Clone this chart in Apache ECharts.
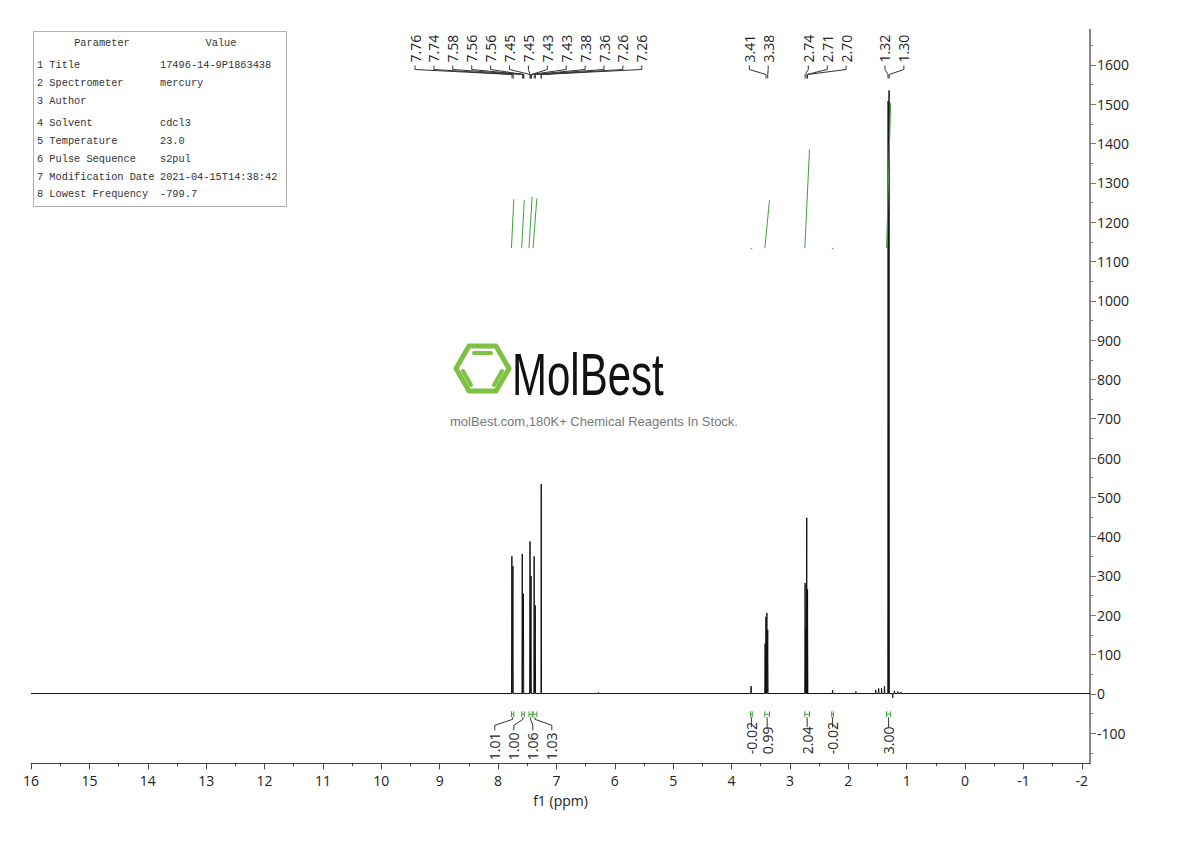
<!DOCTYPE html>
<html><head><meta charset="utf-8">
<script src="https://cdn.jsdelivr.net/npm/echarts@6/dist/echarts.min.js"></script>
<style>html,body{margin:0;padding:0;background:#fff}#c{width:1190px;height:841px}</style>
</head><body><div id="c"></div>
<script>
// ---------------- data ----------------
const xTickValues = [16,15,14,13,12,11,10,9,8,7,6,5,4,3,2,1,0,-1,-2];
const xMinorTickValues = [15.5,14.5,13.5,12.5,11.5,10.5,9.5,8.5,7.5,6.5,5.5,4.5,3.5,2.5,1.5,0.5,-0.5,-1.5];
const yTickValues = [-100,0,100,200,300,400,500,600,700,800,900,1000,1100,1200,1300,1400,1500,1600];
const yMinorTickValues = [-150,-50,50,150,250,350,450,550,650,750,850,950,1050,1150,1250,1350,1450,1550,1650];

// spectrum lines (ppm, intensity)
const specPpm    = [7.763,7.745,7.585,7.565,7.452,7.435,7.381,7.362,7.260,6.28,3.665,3.425,3.410,3.395,3.380,2.740,2.725,2.712,2.705,2.698,2.27,1.87,1.53,1.48,1.43,1.38,1.318,1.302,1.24,1.21,1.15,1.10];
const specHeight = [350,  325,  356,  255,  388,  300,  350,  225,  534,  4,   20,   128,  196,  206,  163,  282,  170,  448,  180,  266,  10,  6,   10,  14,  15,  20,  1508, 1535, -10, 8,   6,   5];
const baselineLevel = 1;

// integrals
const intFrom  = [7.770,7.595,7.470,7.400,3.675,3.430,2.745,2.285,1.345];
const intTo    = [7.730,7.550,7.415,7.335,3.645,3.350,2.665,2.255,1.275];
const intValue = [1.01, 1.00, 1.06, 1.03, -0.02,0.99, 2.04, -0.02,3.00];
const intLabelGroup = [0,0,0,0,-1,-1,-1,-1,-1];

// peak labels
const peakLabels = ['7.76','7.74','7.58','7.56','7.56','7.45','7.45','7.43','7.43','7.38','7.36','7.26','7.26','3.41','3.38','2.74','2.71','2.70','1.32','1.30'];
const peakLabelGroup = [0,0,0,0,0,0,0,0,0,0,0,0,0,1,1,2,2,2,3,3];

// parameter table
const paramHeader = ['Parameter','Value'];
const paramNames  = ['1 Title','2 Spectrometer','3 Author','4 Solvent','5 Temperature','6 Pulse Sequence','7 Modification Date','8 Lowest Frequency'];
const paramValues = ['17496-14-9P1863438','mercury','','cdcl3','23.0','s2pul','2021-04-15T14:38:42','-799.7'];

// ---------------- layout constants ----------------
const peakLabelGroupStartPpm = [9.422, 3.696, 2.685, 1.372];
const PEAK_LABEL_STEP = 18.9;
const intLabelGroupCenterPpm = [7.567];
const INT_LABEL_STEP = 19;
const INT_BASE = 1134, INT_SCALE = 123;
const tableRowY = [65,83,101,123,141,159,177,194];

const LABEL_FONT = '14px "Open Sans", "Noto Sans", sans-serif';
const TABLE_FONT = '10.3px "Liberation Mono", "DejaVu Sans Mono", monospace';
const GREEN = '#3f9f3f';

// ---------------- build series data ----------------
const peaks = specPpm.map((p,i)=>[p, specHeight[i]]).sort((a,b)=>b[0]-a[0]);
const W = 0.005;
const specData = [[16, baselineLevel]];
peaks.forEach(([p,h])=>{
  specData.push([p+W, baselineLevel]);
  specData.push([p, h]);
  specData.push([p-W, baselineLevel]);
});
specData.push([-2.14, baselineLevel]);

const peakIdxInGroup = [];
(function(){ const c = {}; peakLabelGroup.forEach((g,i)=>{ c[g]=(c[g]||0); peakIdxInGroup[i]=c[g]; c[g]++; }); })();
const intIdxInGroup = [];
const intGroupCount = {};
intLabelGroup.forEach((g,i)=>{ if(g>=0){ intGroupCount[g]=(intGroupCount[g]||0); intIdxInGroup[i]=intGroupCount[g]; intGroupCount[g]++; } else intIdxInGroup[i]=0; });

const integralSeries = intValue.map((v,i)=>({
  type:'line', xAxisIndex:0, yAxisIndex:0, symbol:'none', silent:true, animation:false,
  data:[[intFrom[i], INT_BASE],[intTo[i], INT_BASE + v*INT_SCALE]],
  lineStyle:{color:GREEN, width:1}, z:3
}));

function peakLabelItem(params, api){
  const i = params.dataIndex;
  const cs = params.coordSys;
  const g = peakLabelGroup[i];
  const lx = api.coord([peakLabelGroupStartPpm[g], 0])[0] + peakIdxInGroup[i]*PEAK_LABEL_STEP;
  const px = api.coord([api.value(0), 0])[0];
  const t = cs.y;
  return {type:'group', children:[
    {type:'text', x:lx, y:t+33, rotation:Math.PI/2,
     style:{text:peakLabels[i], x:0, y:0, align:'left', verticalAlign:'middle', font:LABEL_FONT, fill:'#222'}},
    {type:'polyline', shape:{points:[[lx,t+36],[lx,t+40],[px,t+45],[px,t+49]]},
     style:{stroke:'#333', lineWidth:1, fill:'none'}}
  ]};
}

function integralItem(params, api){
  const i = params.dataIndex;
  const cs = params.coordSys;
  const b = cs.y + cs.height;
  const x1 = api.coord([intFrom[i],0])[0], x2 = api.coord([intTo[i],0])[0];
  const mx = (x1+x2)/2, my = b-49;
  const g = intLabelGroup[i];
  const children = [
    {type:'polyline', shape:{points:[[x1,my-3],[x1,my+3]]}, style:{stroke:GREEN, lineWidth:1, fill:'none'}},
    {type:'polyline', shape:{points:[[x2,my-3],[x2,my+3]]}, style:{stroke:GREEN, lineWidth:1, fill:'none'}},
    {type:'polyline', shape:{points:[[x1,my],[x2,my]]}, style:{stroke:GREEN, lineWidth:1, fill:'none'}}
  ];
  let lx, ly;
  if (g >= 0) {
    const n = intGroupCount[g];
    lx = api.coord([intLabelGroupCenterPpm[g],0])[0] + (intIdxInGroup[i]-(n-1)/2)*INT_LABEL_STEP;
    ly = b-3;
    children.push({type:'polyline', shape:{points:[[mx,my+3],[mx,my+5],[lx,b-38],[lx,b-33]]}, style:{stroke:'#333', lineWidth:1, fill:'none'}});
  } else {
    lx = mx; ly = b-9;
    children.push({type:'polyline', shape:{points:[[mx,my+3],[mx,b-36]]}, style:{stroke:'#333', lineWidth:1, fill:'none'}});
  }
  children.push({type:'text', x:lx, y:ly, rotation:Math.PI/2,
    style:{text:intValue[i].toFixed(2), x:0, y:0, align:'left', verticalAlign:'middle', font:LABEL_FONT, fill:'#222'}});
  return {type:'group', children};
}

// ---------------- graphics: table & logo ----------------
const graphics = [];
graphics.push({type:'rect', shape:{x:33.5,y:31.5,width:253,height:175}, style:{fill:'#fff', stroke:'#b0b0b0', lineWidth:1}, z:10});
graphics.push({type:'text', x:102, y:43, style:{text:paramHeader[0], font:TABLE_FONT, fill:'#333', align:'center', verticalAlign:'middle'}, z:11});
graphics.push({type:'text', x:221, y:43, style:{text:paramHeader[1], font:TABLE_FONT, fill:'#333', align:'center', verticalAlign:'middle'}, z:11});
paramNames.forEach((n,i)=>{
  graphics.push({type:'text', x:37, y:tableRowY[i], style:{text:n, font:TABLE_FONT, fill:'#333', verticalAlign:'middle'}, z:11});
  graphics.push({type:'text', x:160, y:tableRowY[i], style:{text:paramValues[i], font:TABLE_FONT, fill:'#333', verticalAlign:'middle'}, z:11});
});
// logo
graphics.push({type:'polygon', shape:{points:[[456,368.5],[469,346],[496,346],[509,368.5],[496,391],[469,391]]},
  style:{fill:'none', stroke:'#7cc142', lineWidth:5, lineJoin:'round'}, z:5});
graphics.push({type:'polyline', shape:{points:[[474,353],[491,353]]}, style:{stroke:'#7cc142', lineWidth:4, lineCap:'round', fill:'none'}, z:5});
graphics.push({type:'polyline', shape:{points:[[463,371],[471,385]]}, style:{stroke:'#7cc142', lineWidth:4, lineCap:'round', fill:'none'}, z:5});
graphics.push({type:'polyline', shape:{points:[[494,385],[502,371]]}, style:{stroke:'#7cc142', lineWidth:4, lineCap:'round', fill:'none'}, z:5});
graphics.push({type:'text', x:512, y:374, scaleX:0.7, style:{text:'MolBest', font:'60px "Liberation Sans", Arial, sans-serif', fill:'#111', verticalAlign:'middle'}, z:5});
graphics.push({type:'text', x:594, y:421, style:{text:'molBest.com,180K+ Chemical Reagents In Stock.', font:'13px "Liberation Sans", Arial, sans-serif', fill:'#777', align:'center', verticalAlign:'middle'}, z:5});

// ---------------- chart ----------------
const chart = echarts.init(document.getElementById('c'), null, {renderer:'svg'});
const axisLabelStyle = {fontSize:14, color:'#222', fontFamily:'"Open Sans", "Noto Sans", sans-serif', formatter:(v)=>String(v)};
chart.setOption({
  animation:false,
  backgroundColor:'#fff',
  grid:{left:31, right:100, top:29.5, bottom:77.7, containLabel:false},
  xAxis:[{
    type:'value', min:-2.14, max:16, inverse:true, position:'bottom',
    axisLine:{show:true, onZero:false, lineStyle:{color:'#444', width:1}},
    axisTick:{show:true, length:6, customValues:xTickValues, lineStyle:{color:'#444'}},
    axisLabel:Object.assign({margin:10, customValues:xTickValues}, axisLabelStyle),
    splitLine:{show:false},
    name:'f1 (ppm)', nameLocation:'middle', nameGap:30, nameTextStyle:{fontSize:14, color:'#222', fontFamily:'"Open Sans", "Noto Sans", sans-serif'}
  },{
    type:'value', min:-2.14, max:16, inverse:true, position:'bottom', offset:0,
    axisLine:{show:false, onZero:false},
    axisTick:{show:true, length:3, customValues:xMinorTickValues, lineStyle:{color:'#444'}},
    axisLabel:{show:false}, splitLine:{show:false}
  }],
  yAxis:[{
    type:'value', min:-176.4, max:1690, position:'right',
    axisLine:{show:true, onZero:false, lineStyle:{color:'#888', width:2}},
    axisTick:{show:true, length:6, customValues:yTickValues, lineStyle:{color:'#777'}},
    axisLabel:Object.assign({margin:7, customValues:yTickValues}, axisLabelStyle),
    splitLine:{show:false}
  },{
    type:'value', min:-176.4, max:1690, position:'right', offset:0,
    axisLine:{show:false, onZero:false},
    axisTick:{show:true, length:3, customValues:yMinorTickValues, lineStyle:{color:'#777'}},
    axisLabel:{show:false}, splitLine:{show:false}
  }],
  graphic:graphics,
  series:[
    {type:'line', xAxisIndex:0, yAxisIndex:0, data:specData, symbol:'none', sampling:null, silent:true,
     lineStyle:{color:'#111', width:1}, z:2},
    ...integralSeries,
    {type:'custom', xAxisIndex:0, yAxisIndex:0, renderItem:peakLabelItem, silent:true, z:4,
     data:peakLabels.map(t=>[parseFloat(t),0]), encode:{x:0,y:1}},
    {type:'custom', xAxisIndex:0, yAxisIndex:0, renderItem:integralItem, silent:true, z:4,
     data:intValue.map((v,i)=>[(intFrom[i]+intTo[i])/2,0]), encode:{x:0,y:1}}
  ]
});
</script>
</body></html>
